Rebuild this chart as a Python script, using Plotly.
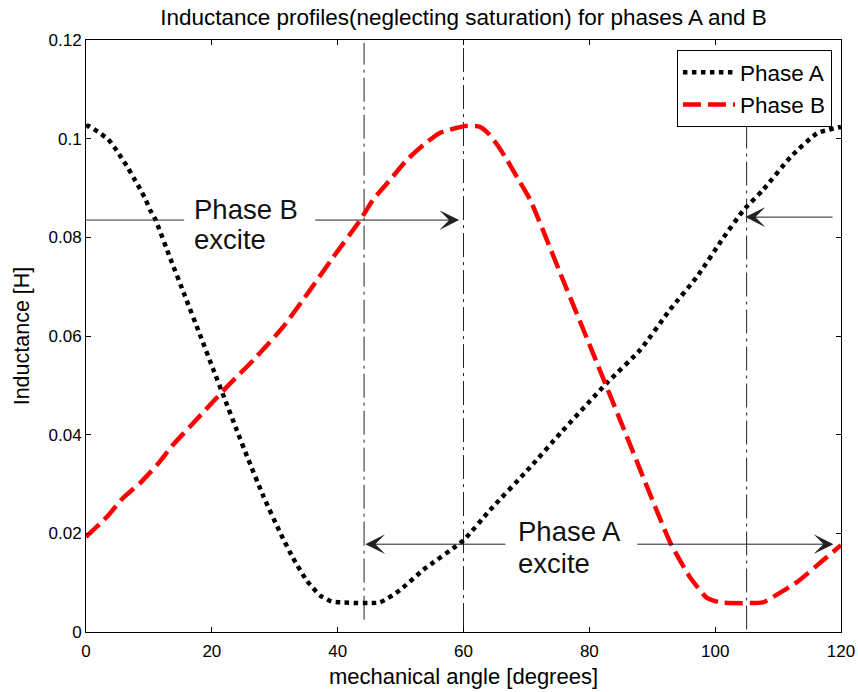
import plotly.graph_objects as go

# ---------------- data ----------------
angle_a = [0, 0.3, 1.9, 3.5, 4.6, 5.7, 6.7, 7.6, 8.6, 9.5, 10.2, 11.0, 13.4, 15.7, 18.1,
           20.2, 22.0, 24.0, 25.6, 28.2, 30.8, 32.9, 35.1, 37.2, 39.0, 40.5, 46.7, 49.9,
           53.6, 60.0, 64.2, 70.6, 75.4, 82.8, 88.1, 92.8, 97.1, 101.3, 104.5, 107.6,
           112.0, 116.2, 120.0]
phase_a = [0.1024, 0.1026, 0.1014, 0.0999, 0.0981, 0.0960, 0.0940, 0.0920, 0.0898, 0.0876,
           0.0855, 0.0837, 0.0757, 0.0682, 0.0603, 0.0533, 0.0474, 0.0408, 0.0356, 0.0275,
           0.0203, 0.0150, 0.0104, 0.0074, 0.0062, 0.0060, 0.0060, 0.0085, 0.0126, 0.0186,
           0.0247, 0.0334, 0.0403, 0.0505, 0.0572, 0.0653, 0.0720, 0.0799, 0.0855, 0.0896,
           0.0963, 0.1011, 0.1024]

angle_b = [0, 3.3, 5.9, 8.6, 11.3, 13.8, 16.5, 19.7, 23.0, 26.6, 31.3, 35.6, 39.3, 43.6,
           45.6, 48.3, 51.0, 53.6, 56.3, 60.6, 62.6, 64.0, 65.5, 67.0, 68.5, 70.6, 75.8,
           80.9, 86.0, 92.8, 96.0, 98.7, 100.8, 107.6, 109.2, 113.0, 117.2, 120.0]
phase_b = [0.0193, 0.0233, 0.0272, 0.0302, 0.0339, 0.0379, 0.0416, 0.0460, 0.0505, 0.0551,
           0.0618, 0.0693, 0.0760, 0.0835, 0.0876, 0.0916, 0.0957, 0.0987, 0.1012, 0.1026,
           0.1024, 0.1010, 0.0985, 0.0955, 0.0922, 0.0876, 0.0714, 0.0555, 0.0395, 0.0183,
           0.0111, 0.0069, 0.0060, 0.0060, 0.0071, 0.0101, 0.0146, 0.0176]

x_ticks = [0, 20, 40, 60, 80, 100, 120]
x_tick_labels = ["0", "20", "40", "60", "80", "100", "120"]
y_ticks = [0, 0.02, 0.04, 0.06, 0.08, 0.1, 0.12]
y_tick_labels = ["0", "0.02", "0.04", "0.06", "0.08", "0.1", "0.12"]

# reference (dash-dot) vertical lines: angle, bottom, top
ref_angles = [44.2, 60.0, 105.0]
ref_bottom = [0.0025, 0.001, 0.0005]
ref_top = [0.1194, 0.1196, 0.1028]

# arrows: tail angle, tip angle, level
arrow_tail = [36.2, 118.9, 66.9, 87.4]
arrow_tip = [59.3, 104.8, 44.4, 118.8]
arrow_level = [0.0835, 0.0841, 0.0178, 0.0178]

# plain (no head) line segment to the left of "Phase B excite"
plain_x0 = [0.0]
plain_x1 = [15.6]
plain_level = [0.0835]

# text labels (one entry per text line)
label_text = ["Phase B", "excite", "Phase A", "excite"]
label_x = [16.9, 16.9, 68.3, 68.3]
label_y = [0.0857, 0.0795, 0.0203, 0.0138]

FONT = "Liberation Sans, Arial, Helvetica, sans-serif"

fig = go.Figure()
fig.add_trace(go.Scatter(
    x=angle_a, y=phase_a, mode="lines", name="Phase A",
    line=dict(color="black", width=4.5, dash="dot", shape="spline", smoothing=0.5),
))
fig.add_trace(go.Scatter(
    x=angle_b, y=phase_b, mode="lines", name="Phase B",
    line=dict(color="#ff0000", width=4.5, dash="18px,7px", shape="spline", smoothing=0.5),
))

shapes = []
for a, b, t in zip(ref_angles, ref_bottom, ref_top):
    shapes.append(dict(type="line", xref="x", yref="y", x0=a, x1=a, y0=b, y1=t,
                       line=dict(color="#222222", width=1, dash="24px,5px,3px,5px"),
                       layer="below"))
for x0, x1, yv in zip(plain_x0, plain_x1, plain_level):
    shapes.append(dict(type="line", xref="x", yref="y", x0=x0, x1=x1, y0=yv, y1=yv,
                       line=dict(color="#333333", width=1)))

annotations = []
for tail, tip, yv in zip(arrow_tail, arrow_tip, arrow_level):
    annotations.append(dict(
        x=tip, y=yv, ax=tail, ay=yv, xref="x", yref="y", axref="x", ayref="y",
        text="", showarrow=True, arrowhead=3, arrowsize=3.3, arrowwidth=1,
        arrowcolor="#222222", standoff=0,
    ))
for t, xv, yv in zip(label_text, label_x, label_y):
    annotations.append(dict(
        x=xv, y=yv, xref="x", yref="y", text=t, showarrow=False,
        xanchor="left", yanchor="middle", align="left",
        font=dict(family=FONT, size=27.5, color="#111111"),
    ))

fig.update_layout(
    width=858, height=692,
    margin=dict(l=86, r=17, t=40, b=60, autoexpand=False),
    paper_bgcolor="white", plot_bgcolor="white",
    font=dict(family=FONT, color="black"),
    title=dict(
        text="Inductance profiles(neglecting saturation) for phases A and B",
        font=dict(family=FONT, size=22.5, color="black"),
        x=0.5, xref="paper", xanchor="center",
        y=1 - 17 / 692, yref="container", yanchor="middle",
    ),
    showlegend=True,
    legend=dict(
        x=0.988, y=0.983, xanchor="right", yanchor="top",
        bgcolor="white", bordercolor="black", borderwidth=1,
        font=dict(family=FONT, size=22.5, color="black"),
        itemwidth=52, tracegroupgap=0,
    ),
    shapes=shapes,
    annotations=annotations,
)

fig.update_xaxes(
    range=[0, 120], tickvals=x_ticks, ticktext=x_tick_labels,
    showgrid=False, zeroline=False, showline=True, linecolor="black", linewidth=1,
    mirror="ticks", ticks="inside", ticklen=5, tickcolor="black",
    ticklabelstandoff=4,
    tickfont=dict(family=FONT, size=17, color="black"),
    title=dict(text="mechanical angle [degrees]", standoff=8,
               font=dict(family=FONT, size=22, color="black")),
    automargin=False,
)
fig.update_yaxes(
    range=[0, 0.12], tickvals=y_ticks, ticktext=y_tick_labels,
    showgrid=False, zeroline=False, showline=True, linecolor="black", linewidth=1,
    mirror="ticks", ticks="inside", ticklen=5, tickcolor="black",
    tickfont=dict(family=FONT, size=17, color="black"),
    title=dict(text="Inductance [H]", standoff=12,
               font=dict(family=FONT, size=21.5, color="black")),
    automargin=False,
)

fig.write_html("out.html")
